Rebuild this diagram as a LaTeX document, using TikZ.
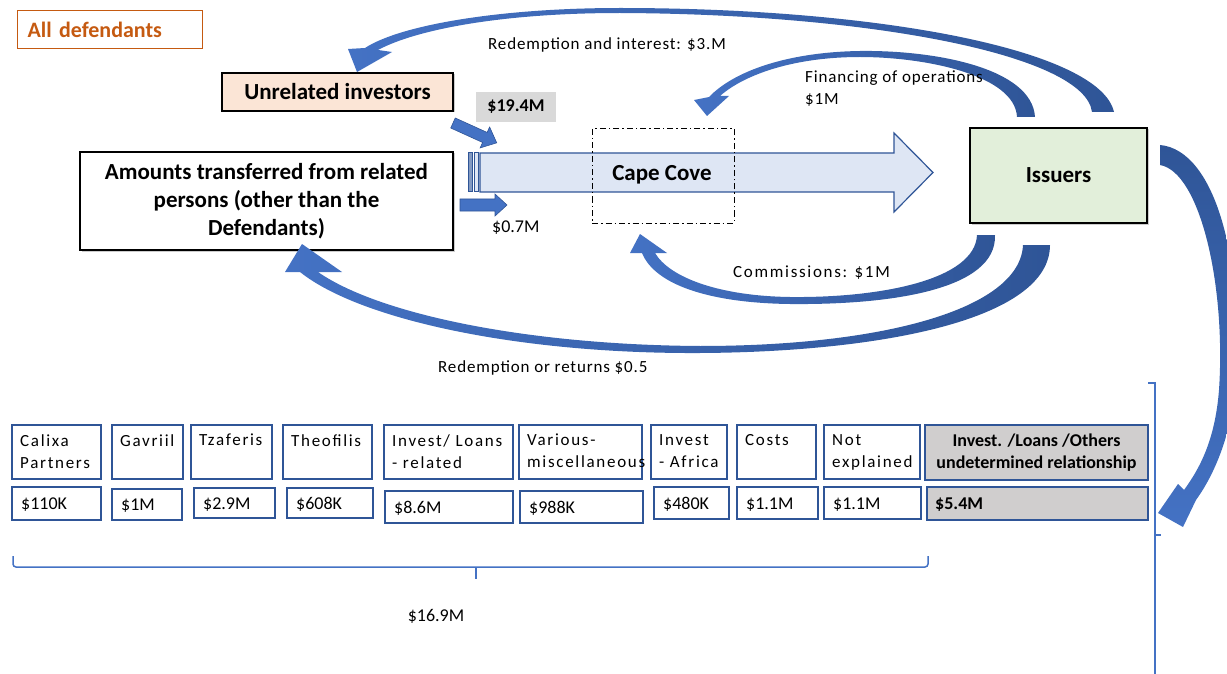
\documentclass[tikz,border=0pt]{standalone}
\usepackage{fontspec}
\setmainfont{Carlito}
\newfontfamily\lsA[LetterSpace=5]{Carlito}
\newfontfamily\lsB[LetterSpace=10]{Carlito}
\usetikzlibrary{fit,shadows,calc}
\definecolor{arrowblue}{HTML}{4472C4}
\definecolor{darkblue}{HTML}{2F5597}
\definecolor{orangetxt}{HTML}{C55A11}
\definecolor{peach}{HTML}{FBE5D6}
\definecolor{lightgreen}{HTML}{E2EFDA}
\definecolor{lightblue}{HTML}{DEE6F4}
\definecolor{graybox}{HTML}{D0CECE}
\definecolor{graylabel}{HTML}{D9D9D9}
\newcommand\mkhdr[4]{%
  \node[hbox, fit={(#2,425) (#3,479)}] (#1) {};
  \node[htext] (#1t) at ({#2+8},434) {#4};}
\newcommand\mkval[6]{%
  \node[hbox, fit={(#2,#4) (#3,#5)}] (#1) {};
  \node[vtext] (#1t) at ({#2+9},{(#4+#5)/2+6}) {#6};}
\begin{document}
\begin{tikzpicture}[x=1pt,y=-1pt,
  mainbox/.style={draw=black, line width=1.3pt, inner sep=0pt,
    drop shadow={shadow xshift=1.5pt, shadow yshift=-1.5pt, opacity=0.4}},
  bigtext/.style={font=\fontsize{23}{28}\selectfont\bfseries, align=center},
  hbox/.style={draw=darkblue, line width=1.5pt, inner sep=0pt},
  htext/.style={font=\lsB\fontsize{17}{22}\selectfont, align=left, inner sep=0pt, anchor=north west},
  vtext/.style={font=\fontsize{18}{22}\selectfont, inner sep=0pt, anchor=base west},
  lbl/.style={font=\lsA\fontsize{17}{22}\selectfont, inner sep=0pt, anchor=west, align=left},
  blockfill/.style={fill=arrowblue, draw=darkblue, line width=0.6pt},
  arcup/.style={left color=arrowblue, right color=darkblue},
]
\useasboundingbox (0,0) rectangle (1227,674);

% header label
\node[draw=orangetxt, line width=1.2pt, minimum width=185pt, minimum height=38pt,
  text width=165pt, align=left, inner xsep=10pt, inner ysep=0pt, anchor=north west,
  font=\fontsize{22}{26}\selectfont\bfseries, text=orangetxt] (alldef) at (17,10) {All defendants};

% Cape Cove arrow
\draw[darkblue, line width=1.2pt, fill=lightblue] (480,153) -- (894,153) -- (894,133) -- (933,172.5)
  -- (894,212) -- (894,192) -- (480,192) -- cycle;
\draw[darkblue, line width=1pt, fill=darkblue!60] (468,153) rectangle (472,192);
\draw[darkblue, line width=1pt, fill=lightblue] (474,153) rectangle (478,192);
\node[bigtext] (capecove) at (662,175) {Cape Cove};
\node[draw=black, line width=1pt, dash pattern=on 6pt off 3pt on 1.5pt off 3pt,
  minimum width=142pt, minimum height=94pt, inner sep=0pt] (ccbox) at (663,176) {};

% main boxes
\node[mainbox, fill=peach, minimum width=231pt, minimum height=38pt, bigtext] (unrel) at (337.5,92) {Unrelated investors};
\node[fill=graylabel, minimum width=80pt, minimum height=30pt, inner sep=0pt,
  font=\fontsize{18}{22}\selectfont\bfseries] (amt194) at (516,107) {\$19.4M};
\node[mainbox, fill=white, minimum width=373pt, minimum height=98pt, bigtext] (related) at (266.5,201)
  {Amounts transferred from related\\persons (other than the\\Defendants)};
\node[mainbox, fill=lightgreen, minimum width=177pt, minimum height=95pt, bigtext] (issuers) at (1058.5,175.5) {Issuers};

% straight block arrows
\begin{scope}[shift={(453,123)}, rotate=-24.4]
  \path[blockfill] (0,-5.5) -- (35,-5.5) -- (35,-11.5) -- (48,0) -- (35,11.5) -- (35,5.5) -- (0,5.5) -- cycle;
\end{scope}
\path[blockfill] (460,199) -- (495,199) -- (495,194) -- (507,205) -- (495,216) -- (495,211) -- (460,211) -- cycle;

% curved arrows
\path[arcup] (1114,112) .. controls (1100,50) and (880,8) .. (620,8)
  .. controls (500,8) and (400,25) .. (365,48) -- (348,49) -- (357,72) -- (392,52) -- (378,50)
  .. controls (415,30) and (500,13) .. (620,13) .. controls (870,14) and (1085,55) .. (1092,112) -- cycle;
\path[arcup] (1035,117) .. controls (1032,68) and (935,50) .. (860,51)
  .. controls (790,52) and (735,70) .. (709,97) -- (694,100) -- (707,116) -- (729,96) -- (720,96)
  .. controls (745,74) and (795,57) .. (860,57) .. controls (925,57) and (1015,75) .. (1017,117) -- cycle;
\path[top color=darkblue, bottom color=arrowblue] (1160,145) .. controls (1215,150) and (1245,260) .. (1235,390)
  .. controls (1230,440) and (1212,478) .. (1196,500) -- (1183,527) -- (1158,513) -- (1178,484) -- (1184,490)
  .. controls (1200,468) and (1215,440) .. (1219,390) .. controls (1226,285) and (1200,172) .. (1160,165) -- cycle;
\path[arcup] (995,235) .. controls (997,290) and (890,305) .. (790,304)
  .. controls (710,303) and (655,285) .. (642,253) -- (630,253) -- (640,234) -- (667,253) -- (655,253)
  .. controls (670,278) and (720,296) .. (790,297) .. controls (880,298) and (975,280) .. (977,235) -- cycle;
\path[arcup] (1050,245) .. controls (1050,320) and (880,352) .. (700,353)
  .. controls (520,354) and (360,320) .. (300,272) -- (285,272) -- (302,244) -- (342,272) -- (318,272)
  .. controls (380,315) and (530,345) .. (700,346) .. controls (880,346) and (1020,310) .. (1023,245) -- cycle;

% labels
\node[lbl] (lblA) at (488,45) {Redemption and interest: \$3.M};
\node[lbl, anchor=north west] (lblB) at (805,71) {Financing of operations\\\$1M};
\node[font=\fontsize{18}{22}\selectfont, anchor=west, inner sep=0pt] (lbl07) at (492,228) {\$0.7M};
\node[font=\lsB\fontsize{17}{22}\selectfont, anchor=west, inner sep=0pt] (lblC) at (733,273) {Commissions: \$1M};
\node[lbl] (lblD) at (438,368) {Redemption or returns \$0.5};

% table headers
\mkhdr{h1}{12}{101}{Calixa\\Partners}
\mkhdr{h2}{112}{183}{Gavriil}
\mkhdr{h3}{191}{272}{Tzaferis}
\mkhdr{h4}{283}{372}{Theofilis}
\mkhdr{h5}{384}{513}{Invest/ Loans\\- related}
\mkhdr{h6}{519}{642}{Various-\\miscellaneous}
\mkhdr{h7}{651}{727}{Invest\\- Africa}
\mkhdr{h8}{737}{816}{Costs}
\mkhdr{h9}{824}{920}{Not\\explained}
\node[hbox, fill=graybox, fit={(925,425) (1148,480)}] (h10) {};
\node[font=\fontsize{18}{22}\selectfont\bfseries, align=center, inner sep=0pt] (h10t) at (h10.center)
  {Invest. /Loans /Others\\undetermined relationship};

% table values
\mkval{v1}{12}{101}{487}{520}{\$110K}
\mkval{v2}{112}{182}{489}{520}{\$1M}
\mkval{v3}{194}{275}{488}{518}{\$2.9M}
\mkval{v4}{287}{373}{488}{518}{\$608K}
\mkval{v5}{385}{513}{491}{523}{\$8.6M}
\mkval{v6}{520}{643}{491}{523}{\$988K}
\mkval{v7}{654}{729}{487}{519}{\$480K}
\mkval{v8}{737}{818}{487}{519}{\$1.1M}
\mkval{v9}{824}{921}{487}{519}{\$1.1M}
\node[hbox, fill=graybox, fit={(927,487) (1148,520)}] (v10) {};
\node[vtext, font=\fontsize{18}{22}\selectfont\bfseries] (v10t) at (935,509.5) {\$5.4M};

% braces
\draw[arrowblue, line width=1.5pt, rounded corners=3pt] (13,556) -- (13,567) -- (928,567) -- (928,556);
\draw[arrowblue, line width=1.5pt] (476,567) -- (476,579);
\node[font=\fontsize{18}{22}\selectfont, inner sep=0pt] (total) at (436,616) {\$16.9M};
\draw[arrowblue, line width=2pt] (1148,383) -- (1155,383) -- (1155,674);
\draw[arrowblue, line width=2pt] (1155,535) -- (1161,535);
\end{tikzpicture}
\end{document}
